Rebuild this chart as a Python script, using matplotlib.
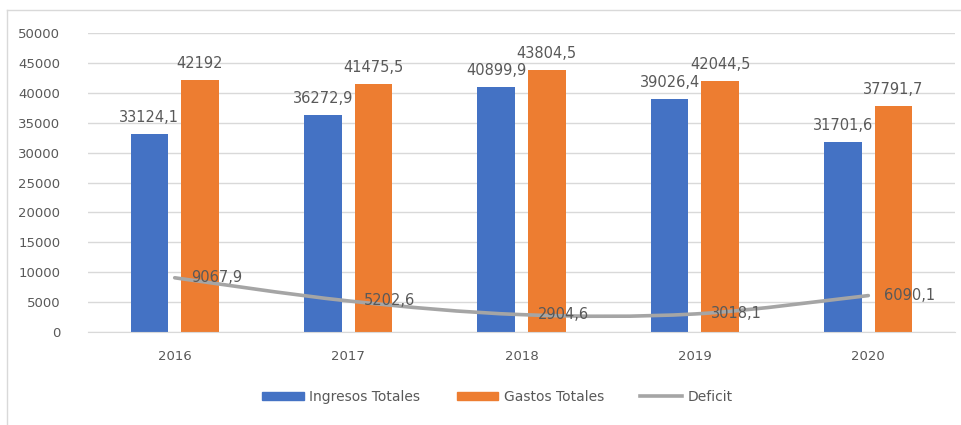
import matplotlib
matplotlib.use("Agg")
import matplotlib.pyplot as plt
from matplotlib.path import Path
from matplotlib.patches import PathPatch
from matplotlib.lines import Line2D
from matplotlib.patches import Patch
import numpy as np

years = ["2016", "2017", "2018", "2019", "2020"]
ingresos = [33124.1, 36272.9, 40899.9, 39026.4, 31701.6]
gastos = [42192, 41475.5, 43804.5, 42044.5, 37791.7]
deficit = [9067.9, 5202.6, 2904.6, 3018.1, 6090.1]
ingresos_lbl = ["33124,1", "36272,9", "40899,9", "39026,4", "31701,6"]
gastos_lbl = ["42192", "41475,5", "43804,5", "42044,5", "37791,7"]
deficit_lbl = ["9067,9", "5202,6", "2904,6", "3018,1", "6090,1"]

BLUE = "#4472C4"
ORANGE = "#ED7D31"
GRAY = "#A5A5A5"
TXT = "#595959"
GRID = "#D9D9D9"

plt.rcParams["font.family"] = ["DejaVu Sans"]

W, H = 962, 425
fig = plt.figure(figsize=(W / 100, H / 100), dpi=100)
ax = fig.add_axes([88 / W, 1 - 332 / H, (955 - 88) / W, (332 - 33) / H])

x = np.arange(len(years))
off = 0.146
bw = 0.217
ax.bar(x - off, ingresos, bw, color=BLUE, zorder=2)
ax.bar(x + off, gastos, bw, color=ORANGE, zorder=2)

# smoothed line via cubic Bezier path (Catmull-Rom style control points)
pts = np.column_stack([x, deficit]).astype(float)
n = len(pts)
verts = [tuple(pts[0])]
codes = [Path.MOVETO]
for i in range(n - 1):
    p0 = pts[max(i - 1, 0)]
    p1 = pts[i]
    p2 = pts[i + 1]
    p3 = pts[min(i + 2, n - 1)]
    c1 = p1 + (p2 - p0) / 6.0
    c2 = p2 - (p3 - p1) / 6.0
    verts += [tuple(c1), tuple(c2), tuple(p2)]
    codes += [Path.CURVE4] * 3
patch = PathPatch(Path(verts, codes), facecolor="none", edgecolor=GRAY,
                  lw=2.6, capstyle="round", joinstyle="round", zorder=3)
ax.add_patch(patch)

for xi, v, s in zip(x - off, ingresos, ingresos_lbl):
    ax.annotate(s, (xi, v), xytext=(0, 9), textcoords="offset pixels",
                ha="center", va="bottom", fontsize=10.5, color=TXT, zorder=4)
for xi, v, s in zip(x + off, gastos, gastos_lbl):
    ax.annotate(s, (xi, v), xytext=(0, 9), textcoords="offset pixels",
                ha="center", va="bottom", fontsize=10.5, color=TXT, zorder=4)
for xi, v, s in zip(x, deficit, deficit_lbl):
    ax.annotate(s, (xi, v), xytext=(16, 0), textcoords="offset pixels",
                ha="left", va="center", fontsize=10.5, color=TXT, zorder=4)

ax.set_xlim(-0.5, len(years) - 0.5)
ax.set_ylim(0, 50000)
ax.set_yticks(np.arange(0, 50001, 5000))
ax.set_xticks(x)
ax.set_xticklabels(years)
ax.yaxis.grid(True, color=GRID, lw=1, zorder=0)
ax.set_axisbelow(True)
for sp in ["top", "right", "left"]:
    ax.spines[sp].set_visible(False)
ax.spines["bottom"].set_color(GRID)
ax.tick_params(axis="both", length=0, colors=TXT, labelsize=9.5)
ax.tick_params(axis="y", pad=20)
ax.tick_params(axis="x", pad=13)

handles = [Patch(color=BLUE), Patch(color=ORANGE), Line2D([0], [0], color=GRAY, lw=2.6)]
labels = ["Ingresos Totales", "Gastos Totales", "Deficit"]
fig.legend(handles, labels, loc="center", bbox_to_anchor=(0.517, 1 - 397 / H),
           ncol=3, frameon=False, fontsize=10, labelcolor=TXT,
           handlelength=3.0, handleheight=0.55, columnspacing=2.6, handletextpad=0.4)

# chart border (top and left visible)
fig.add_artist(Line2D([7 / W, 1], [1 - 10 / H, 1 - 10 / H], color=GRID, lw=1,
                      transform=fig.transFigure))
fig.add_artist(Line2D([7 / W, 7 / W], [0, 1 - 10 / H], color=GRID, lw=1,
                      transform=fig.transFigure))

fig.savefig("out.png", dpi=100)
